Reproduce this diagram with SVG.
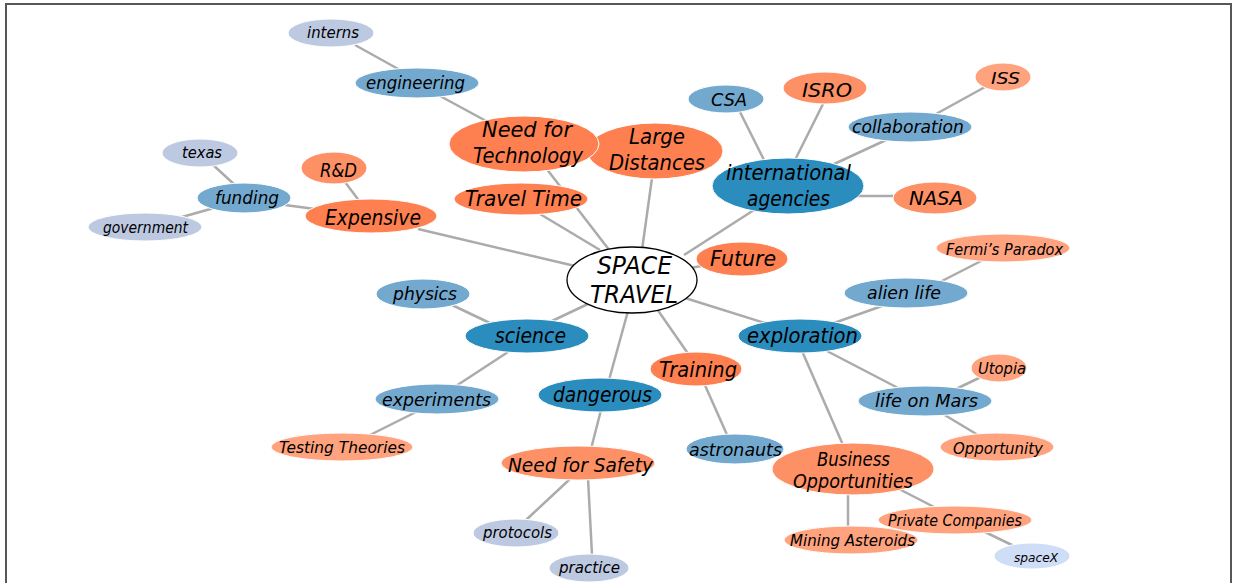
<svg xmlns="http://www.w3.org/2000/svg" width="1233" height="583" viewBox="0 0 1233 583">
  <style>
    .frame { fill: none; stroke: #575757; stroke-width: 2; }
    .edge { stroke: #ababab; stroke-width: 2.5; fill: none; }
    ellipse { stroke: #ffffff; stroke-width: 1; }
    .root { fill: #ffffff; stroke: #000000; stroke-width: 1.3; }
    .b1 { fill: #2b8cbe; }
    .b2 { fill: #74a9cf; }
    .b3 { fill: #bdc9e1; }
    .b4 { fill: #d0ddf6; }
    .o1 { fill: #fe7f4f; }
    .o2 { fill: #fe9066; }
    .o3 { fill: #ffa27e; }
    text { font-family: "DejaVu Sans", "Liberation Sans", sans-serif; font-style: italic; fill: #000000; text-anchor: middle; }
    .t24 { font-size: 24px; }
    .t21 { font-size: 21px; }
    .t19 { font-size: 19px; }
    .t17 { font-size: 17px; }
    .t15 { font-size: 15px; }
    .t13 { font-size: 13px; }
  </style>

  <path class="frame" d="M6,584 V4 H1231 V584"/>

  <g id="connectors">
    <line class="edge" x1="355" y1="45" x2="400" y2="70"/>
    <line class="edge" x1="440" y1="96" x2="488" y2="122"/>
    <line class="edge" x1="546" y1="168" x2="610" y2="251"/>
    <line class="edge" x1="540" y1="214" x2="600" y2="250"/>
    <line class="edge" x1="652" y1="178" x2="642" y2="250"/>
    <line class="edge" x1="754" y1="210" x2="684" y2="255"/>
    <line class="edge" x1="740" y1="112" x2="764" y2="160"/>
    <line class="edge" x1="823" y1="104" x2="795" y2="160"/>
    <line class="edge" x1="886" y1="140" x2="832" y2="165"/>
    <line class="edge" x1="985" y1="87" x2="936" y2="114"/>
    <line class="edge" x1="858" y1="196" x2="896" y2="196"/>
    <line class="edge" x1="418" y1="229" x2="575" y2="266"/>
    <line class="edge" x1="345" y1="182" x2="360" y2="202"/>
    <line class="edge" x1="285" y1="205" x2="315" y2="209"/>
    <line class="edge" x1="212" y1="164" x2="236" y2="186"/>
    <line class="edge" x1="182" y1="217" x2="214" y2="208"/>
    <line class="edge" x1="452" y1="305" x2="492" y2="324"/>
    <line class="edge" x1="552" y1="321" x2="590" y2="303"/>
    <line class="edge" x1="456" y1="386" x2="508" y2="352"/>
    <line class="edge" x1="370" y1="435" x2="416" y2="412"/>
    <line class="edge" x1="609" y1="380" x2="628" y2="311"/>
    <line class="edge" x1="591" y1="449" x2="601" y2="410"/>
    <line class="edge" x1="526" y1="520" x2="570" y2="479"/>
    <line class="edge" x1="592" y1="555" x2="588" y2="478"/>
    <line class="edge" x1="689" y1="355" x2="657" y2="309"/>
    <line class="edge" x1="728" y1="437" x2="704" y2="383"/>
    <line class="edge" x1="765" y1="323" x2="685" y2="298"/>
    <line class="edge" x1="742" y1="259" x2="690" y2="268"/>
    <line class="edge" x1="882" y1="306" x2="834" y2="323"/>
    <line class="edge" x1="983" y1="260" x2="940" y2="282"/>
    <line class="edge" x1="900" y1="389" x2="825" y2="350"/>
    <line class="edge" x1="981" y1="377" x2="956" y2="389"/>
    <line class="edge" x1="978" y1="435" x2="943" y2="414"/>
    <line class="edge" x1="843" y1="445" x2="802" y2="351"/>
    <line class="edge" x1="848" y1="528" x2="848" y2="493"/>
    <line class="edge" x1="936" y1="508" x2="899" y2="489"/>
    <line class="edge" x1="1016" y1="547" x2="985" y2="532"/>
  </g>

  <!-- outer ring, light blue -->
  <g id="n-interns"><ellipse class="b3" cx="331" cy="33" rx="43" ry="14"/><text class="t15" x="333" y="38" textLength="52" lengthAdjust="spacingAndGlyphs">interns</text></g>
  <g id="n-texas"><ellipse class="b3" cx="200" cy="153" rx="38" ry="14"/><text class="t15" x="202" y="158" textLength="40" lengthAdjust="spacingAndGlyphs">texas</text></g>
  <g id="n-government"><ellipse class="b3" cx="145" cy="227" rx="57" ry="14"/><text class="t15" x="145.5" y="233" textLength="85" lengthAdjust="spacingAndGlyphs">government</text></g>
  <g id="n-protocols"><ellipse class="b3" cx="516" cy="533" rx="43" ry="14"/><text class="t15" x="517.5" y="538" textLength="69" lengthAdjust="spacingAndGlyphs">protocols</text></g>
  <g id="n-practice"><ellipse class="b3" cx="589" cy="568" rx="40" ry="14"/><text class="t15" x="589.5" y="573" textLength="61" lengthAdjust="spacingAndGlyphs">practice</text></g>
  <g id="n-spacex"><ellipse class="b4" cx="1032" cy="556" rx="38" ry="13"/><text class="t13" x="1036" y="562" textLength="44" lengthAdjust="spacingAndGlyphs">spaceX</text></g>

  <!-- mid blue -->
  <g id="n-engineering"><ellipse class="b2" cx="417" cy="83" rx="62" ry="15"/><text class="t17" x="415.5" y="89" textLength="99" lengthAdjust="spacingAndGlyphs">engineering</text></g>
  <g id="n-funding"><ellipse class="b2" cx="244" cy="198" rx="47" ry="15"/><text class="t17" x="247" y="204" textLength="64" lengthAdjust="spacingAndGlyphs">funding</text></g>
  <g id="n-csa"><ellipse class="b2" cx="726" cy="99" rx="38" ry="14"/><text class="t17" x="729" y="106" textLength="36" lengthAdjust="spacingAndGlyphs">CSA</text></g>
  <g id="n-collaboration"><ellipse class="b2" cx="910" cy="127" rx="62" ry="15"/><text class="t17" x="908" y="133" textLength="112" lengthAdjust="spacingAndGlyphs">collaboration</text></g>
  <g id="n-physics"><ellipse class="b2" cx="423" cy="294" rx="47" ry="15"/><text class="t17" x="425" y="300" textLength="64" lengthAdjust="spacingAndGlyphs">physics</text></g>
  <g id="n-experiments"><ellipse class="b2" cx="437" cy="399" rx="62" ry="15"/><text class="t17" x="436.5" y="406" textLength="109" lengthAdjust="spacingAndGlyphs">experiments</text></g>
  <g id="n-alien-life"><ellipse class="b2" cx="906" cy="293" rx="62" ry="15"/><text class="t17" x="904" y="299" textLength="74" lengthAdjust="spacingAndGlyphs">alien life</text></g>
  <g id="n-life-on-mars"><ellipse class="b2" cx="925" cy="401" rx="67" ry="15"/><text class="t17" x="926.5" y="407" textLength="103" lengthAdjust="spacingAndGlyphs">life on Mars</text></g>

  <!-- light orange -->
  <g id="n-iss"><ellipse class="o3" cx="1003" cy="77" rx="28" ry="14"/><text class="t15" x="1005.5" y="84" textLength="29" lengthAdjust="spacingAndGlyphs">ISS</text></g>
  <g id="n-fermi"><ellipse class="o3" cx="1003" cy="248" rx="67" ry="14"/><text class="t15" x="1004.5" y="255" textLength="117" lengthAdjust="spacingAndGlyphs">Fermi’s Paradox</text></g>
  <g id="n-utopia"><ellipse class="o3" cx="999" cy="368" rx="28" ry="14"/><text class="t15" x="1002" y="374" textLength="48" lengthAdjust="spacingAndGlyphs">Utopia</text></g>
  <g id="n-opportunity"><ellipse class="o3" cx="997" cy="447" rx="57" ry="14"/><text class="t15" x="998" y="454" textLength="90" lengthAdjust="spacingAndGlyphs">Opportunity</text></g>
  <g id="n-testing"><ellipse class="o3" cx="342" cy="447" rx="71" ry="14"/><text class="t15" x="342" y="453" textLength="126" lengthAdjust="spacingAndGlyphs">Testing Theories</text></g>
  <g id="n-private"><ellipse class="o3" cx="955" cy="520" rx="77" ry="14"/><text class="t15" x="955" y="526" textLength="134" lengthAdjust="spacingAndGlyphs">Private Companies</text></g>
  <g id="n-mining"><ellipse class="o3" cx="851" cy="540" rx="67" ry="14"/><text class="t15" x="852.5" y="546" textLength="125" lengthAdjust="spacingAndGlyphs">Mining Asteroids</text></g>

  <!-- medium orange -->
  <g id="n-rd"><ellipse class="o2" cx="334" cy="168" rx="33" ry="16"/><text class="t19" x="338.5" y="177" textLength="37" lengthAdjust="spacingAndGlyphs">R&amp;D</text></g>
  <g id="n-isro"><ellipse class="o2" cx="825" cy="88" rx="42" ry="16"/><text class="t19" x="827" y="97" textLength="50" lengthAdjust="spacingAndGlyphs">ISRO</text></g>
  <g id="n-nasa"><ellipse class="o2" cx="935" cy="198" rx="42" ry="16"/><text class="t19" x="936" y="205" textLength="54" lengthAdjust="spacingAndGlyphs">NASA</text></g>
  <g id="n-safety"><ellipse class="o2" cx="578" cy="463" rx="77" ry="17"/><text class="t19" x="580.5" y="472" textLength="145" lengthAdjust="spacingAndGlyphs">Need for Safety</text></g>
  <g id="n-business"><ellipse class="o2" cx="853" cy="469" rx="81" ry="26"/><text class="t19" x="853.5" y="466" textLength="73" lengthAdjust="spacingAndGlyphs">Business</text><text class="t19" x="853" y="488" textLength="120" lengthAdjust="spacingAndGlyphs">Opportunities</text></g>
  <g id="n-astronauts"><ellipse class="b2" cx="735" cy="449" rx="49" ry="15"/><text class="t17" x="735.5" y="456" textLength="93" lengthAdjust="spacingAndGlyphs">astronauts</text></g>

  <!-- first ring -->
  <g id="n-large-distances"><ellipse class="o1" cx="655" cy="151" rx="68" ry="28"/><text class="t21" x="657" y="144" textLength="56" lengthAdjust="spacingAndGlyphs">Large</text><text class="t21" x="657" y="170" textLength="96" lengthAdjust="spacingAndGlyphs">Distances</text></g>
  <g id="n-need-tech"><ellipse class="o1" cx="524" cy="144" rx="75" ry="28"/><text class="t21" x="527" y="137" textLength="90" lengthAdjust="spacingAndGlyphs">Need for</text><text class="t21" x="528" y="163" textLength="110" lengthAdjust="spacingAndGlyphs">Technology</text></g>
  <g id="n-travel-time"><ellipse class="o1" cx="521" cy="199" rx="67" ry="16"/><text class="t21" x="523.5" y="206" textLength="117" lengthAdjust="spacingAndGlyphs">Travel Time</text></g>
  <g id="n-expensive"><ellipse class="o1" cx="371" cy="216" rx="66" ry="17"/><text class="t21" x="373" y="225" textLength="96" lengthAdjust="spacingAndGlyphs">Expensive</text></g>
  <g id="n-future"><ellipse class="o1" cx="742" cy="259" rx="46" ry="17"/><text class="t21" x="743" y="266" textLength="66" lengthAdjust="spacingAndGlyphs">Future</text></g>
  <g id="n-training"><ellipse class="o1" cx="696" cy="369" rx="46" ry="17"/><text class="t21" x="698" y="377" textLength="78" lengthAdjust="spacingAndGlyphs">Training</text></g>
  <g id="n-agencies"><ellipse class="b1" cx="788" cy="186" rx="76" ry="28"/><text class="t21" x="788.5" y="180" textLength="125" lengthAdjust="spacingAndGlyphs">international</text><text class="t21" x="788.5" y="206" textLength="83" lengthAdjust="spacingAndGlyphs">agencies</text></g>
  <g id="n-science"><ellipse class="b1" cx="527" cy="336" rx="62" ry="17"/><text class="t21" x="530.5" y="343" textLength="71" lengthAdjust="spacingAndGlyphs">science</text></g>
  <g id="n-dangerous"><ellipse class="b1" cx="600" cy="395" rx="62" ry="17"/><text class="t21" x="602.5" y="402" textLength="99" lengthAdjust="spacingAndGlyphs">dangerous</text></g>
  <g id="n-exploration"><ellipse class="b1" cx="800" cy="336" rx="62" ry="17"/><text class="t21" x="802.5" y="343" textLength="111" lengthAdjust="spacingAndGlyphs">exploration</text></g>

  <!-- centre -->
  <g id="n-space-travel"><ellipse class="root" cx="632" cy="280" rx="65" ry="33"/><text class="t24" x="634.5" y="274" textLength="75" lengthAdjust="spacingAndGlyphs">SPACE</text><text class="t24" x="634" y="303" textLength="88" lengthAdjust="spacingAndGlyphs">TRAVEL</text></g>
</svg>
